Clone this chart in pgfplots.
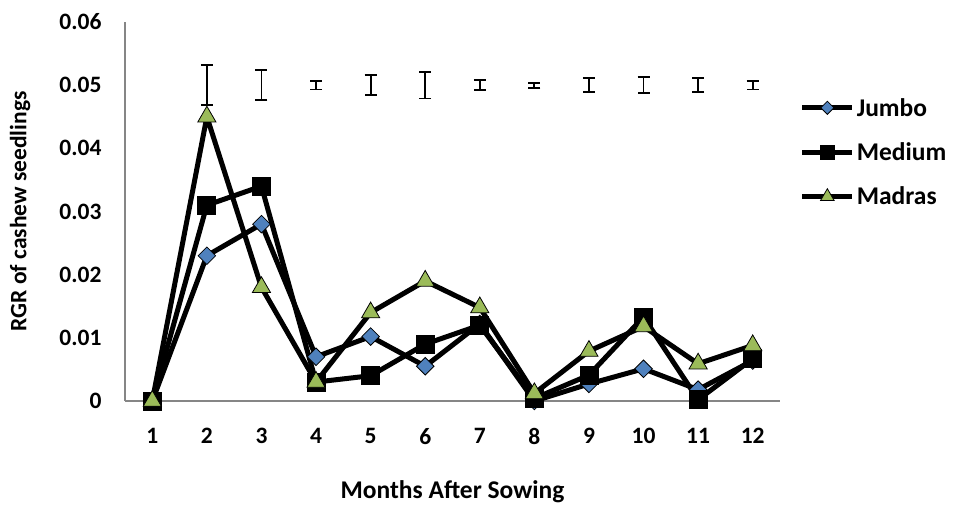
\documentclass[border=0pt]{standalone}
\usepackage{pgfplots}
\pgfplotsset{compat=1.18}
\usepackage{fontspec}
\setmainfont{Carlito}
\definecolor{jblue}{HTML}{4F81BD}
\definecolor{mgreen}{HTML}{9BBB59}
\definecolor{axgray}{HTML}{868686}
\begin{document}
\begin{tikzpicture}
\useasboundingbox (0pt,0pt) rectangle (956pt,508pt);
\begin{axis}[
  at={(125pt,107pt)}, anchor=south west,
  scale only axis, width=655pt, height=379pt,
  xmin=0.5, xmax=12.5, ymin=0, ymax=0.06,
  axis x line*=bottom, axis y line*=left,
  axis line style={draw=axgray, line width=1.5pt, -},
  xtick={1,...,12},
  ytick={0,0.01,0.02,0.03,0.04,0.05,0.06},
  yticklabels={0,0.01,0.02,0.03,0.04,0.05,0.06},
  scaled y ticks=false,
  xticklabels={1,2,3,4,5,6,7,8,9,10,11,12},
  major tick length=0pt,
  tick label style={font=\fontsize{23.5}{26}\selectfont\bfseries},
  xticklabel style={yshift=-24pt},
  yticklabel style={xshift=-20pt},
  xlabel={\fontsize{25.5}{28}\selectfont\bfseries Months After Sowing},
  ylabel={\fontsize{23.5}{26}\selectfont\bfseries RGR of cashew seedlings},
  xlabel style={at={(axis description cs:0.5,-0.240)}, anchor=center},
  ylabel style={at={(axis description cs:-0.160,0.5)}, anchor=center},
  legend style={draw=none, fill=none, at={(1.03,0.805)}, anchor=north west,
    font=\fontsize{25.5}{28}\selectfont\bfseries, row sep=21pt,
    legend cell align=left, inner sep=0pt},
  legend image code/.code={\draw[#1, mark repeat=2, mark phase=2, every mark/.append style={scale=0.75}] plot coordinates {(0pt,0pt) (25pt,0pt) (50pt,0pt)};},
  every axis plot/.append style={line width=5pt},
  clip=false,
]
% error bars (centred at 0.05)
\addplot[forget plot, draw=none, mark=none, line width=1.5pt,
  error bars/.cd, y dir=both, y explicit,
  error bar style={line width=1.8pt, black},
  error mark options={rotate=90, mark size=6pt, line width=1.8pt, black}]
  coordinates {
  (2,0.05) +- (0,0.0032)
  (3,0.05) +- (0,0.0024)
  (4,0.05) +- (0,0.0007)
  (5,0.05) +- (0,0.0016)
  (6,0.05) +- (0,0.0021)
  (7,0.05) +- (0,0.0008)
  (8,0.05) +- (0,0.0004)
  (9,0.05) +- (0,0.0011)
  (10,0.05) +- (0,0.0013)
  (11,0.05) +- (0,0.0011)
  (12,0.05) +- (0,0.0007)
  };
\addplot[black, mark=square*, mark size=6.2pt,
  mark options={rotate=45, fill=jblue, draw=black, line width=0.8pt}]
  coordinates {(1,0) (2,0.023) (3,0.028) (4,0.007) (5,0.0102) (6,0.0055) (7,0.0122) (8,0.0) (9,0.0027) (10,0.0051) (11,0.0018) (12,0.0064)};
\addlegendentry{Jumbo}
\addplot[black, mark=square*, mark size=9pt,
  mark options={fill=black, draw=black, line width=0.8pt}]
  coordinates {(1,0) (2,0.031) (3,0.034) (4,0.003) (5,0.004) (6,0.009) (7,0.012) (8,0.0004) (9,0.0041) (10,0.0133) (11,0.0002) (12,0.0067)};
\addlegendentry{Medium}
\addplot[black, mark=triangle*, mark size=10.5pt,
  mark options={fill=mgreen, draw=black, line width=0.8pt}]
  coordinates {(1,0) (2,0.045) (3,0.018) (4,0.003) (5,0.014) (6,0.019) (7,0.0148) (8,0.0012) (9,0.0079) (10,0.0118) (11,0.0059) (12,0.0088)};
\addlegendentry{Madras}
\end{axis}
\end{tikzpicture}
\end{document}
